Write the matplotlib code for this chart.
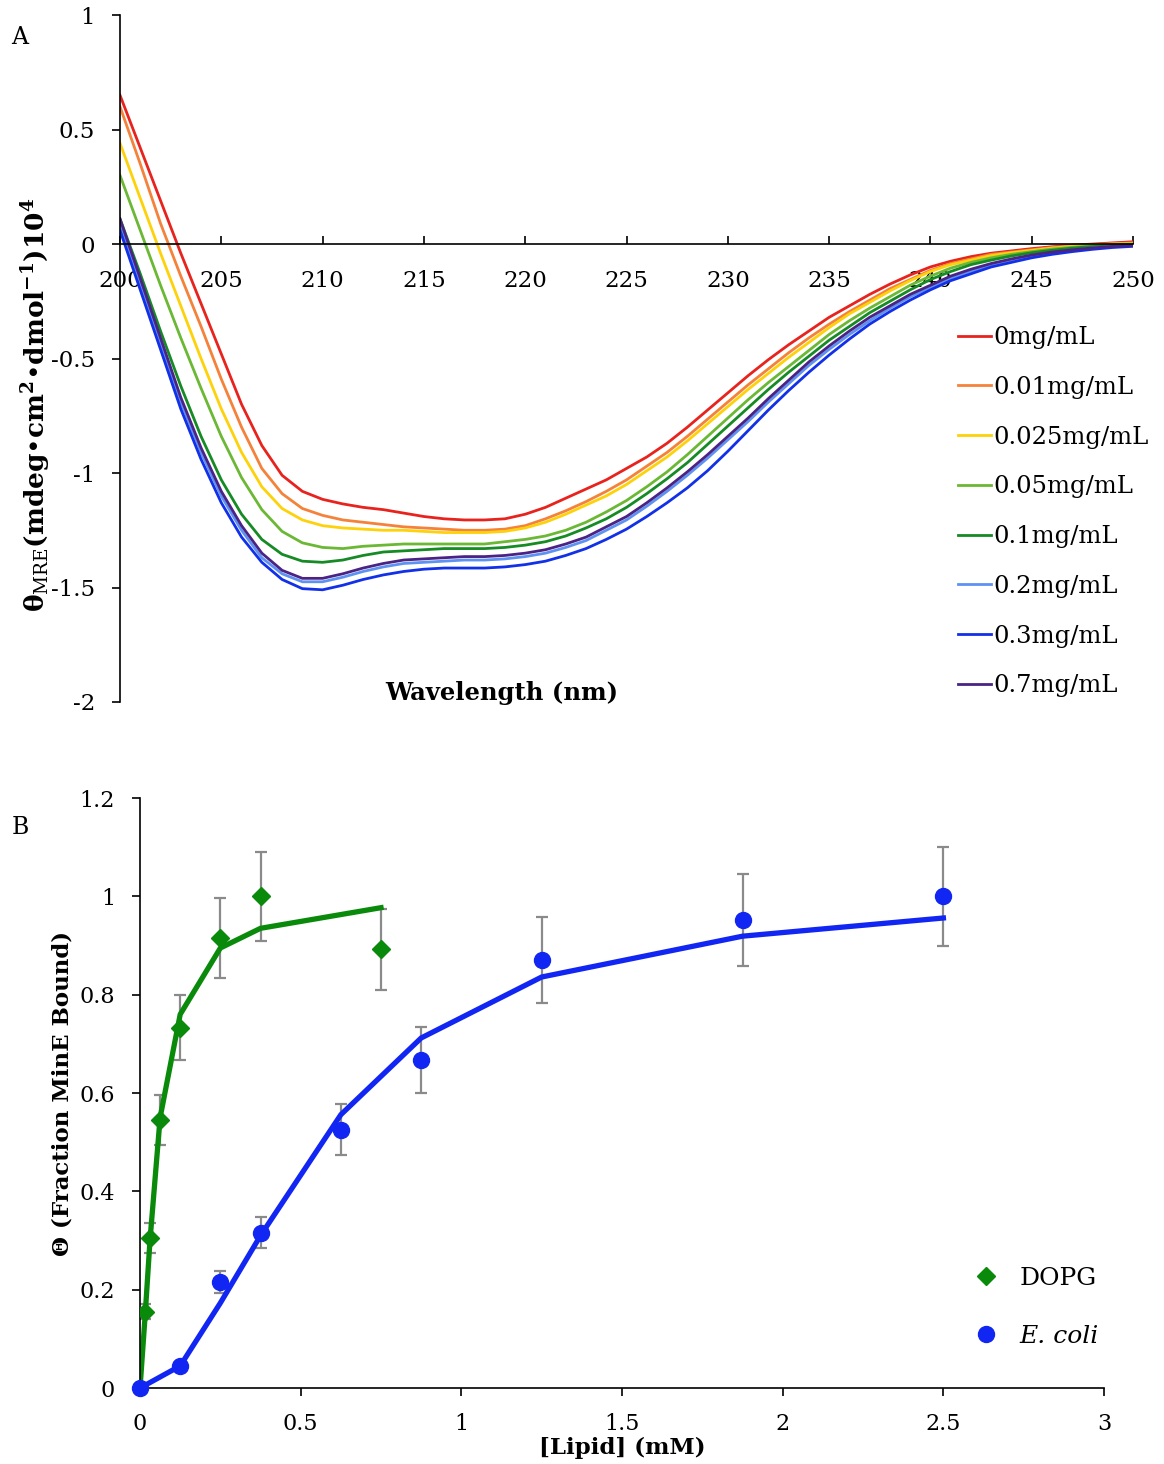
import matplotlib.pyplot as plt
from matplotlib.lines import Line2D

plt.rcParams['font.family'] = ['DejaVu Serif', 'DejaVu Sans']
plt.rcParams['mathtext.fontset'] = 'dejavuserif'

# ---- panel A: CD spectra ----
wavelength = list(range(200, 251))

cd_0 = [0.65, 0.42, 0.19, -0.04, -0.26, -0.48, -0.70, -0.88, -1.01, -1.08,
        -1.115, -1.135, -1.15, -1.16, -1.175, -1.19, -1.20, -1.205, -1.205, -1.20,
        -1.18, -1.15, -1.11, -1.07, -1.03, -0.98, -0.93, -0.87, -0.80, -0.725,
        -0.65, -0.575, -0.505, -0.44, -0.38, -0.32, -0.27, -0.22, -0.175, -0.135,
        -0.10, -0.075, -0.055, -0.04, -0.03, -0.02, -0.012, -0.005, 0.0, 0.005, 0.01]
cd_001 = [0.60, 0.35, 0.09, -0.14, -0.36, -0.59, -0.80, -0.98, -1.09, -1.155,
          -1.185, -1.205, -1.215, -1.225, -1.235, -1.24, -1.245, -1.25, -1.25, -1.245,
          -1.23, -1.20, -1.165, -1.125, -1.08, -1.03, -0.97, -0.91, -0.84, -0.765,
          -0.69, -0.615, -0.545, -0.475, -0.41, -0.35, -0.295, -0.245, -0.195, -0.155,
          -0.115, -0.085, -0.065, -0.045, -0.035, -0.025, -0.015, -0.008, -0.003, 0.002, 0.005]
cd_0025 = [0.44, 0.20, -0.04, -0.27, -0.50, -0.72, -0.91, -1.06, -1.155, -1.205,
           -1.23, -1.24, -1.245, -1.25, -1.25, -1.255, -1.26, -1.26, -1.26, -1.255,
           -1.24, -1.215, -1.18, -1.14, -1.10, -1.05, -0.99, -0.93, -0.86, -0.785,
           -0.71, -0.635, -0.565, -0.495, -0.43, -0.365, -0.305, -0.255, -0.205, -0.16,
           -0.12, -0.09, -0.07, -0.05, -0.038, -0.028, -0.018, -0.01, -0.005, 0.0, 0.003]
cd_005 = [0.30, 0.06, -0.18, -0.41, -0.63, -0.84, -1.02, -1.16, -1.255, -1.305,
          -1.325, -1.33, -1.32, -1.315, -1.31, -1.31, -1.31, -1.31, -1.31, -1.30,
          -1.29, -1.275, -1.25, -1.215, -1.17, -1.12, -1.06, -0.995, -0.92, -0.84,
          -0.76, -0.68, -0.605, -0.535, -0.465, -0.395, -0.335, -0.28, -0.23, -0.18,
          -0.14, -0.105, -0.08, -0.06, -0.045, -0.033, -0.022, -0.014, -0.008, -0.003, 0.0]
cd_01 = [0.11, -0.13, -0.38, -0.62, -0.84, -1.03, -1.18, -1.29, -1.355, -1.385,
         -1.39, -1.38, -1.36, -1.345, -1.34, -1.335, -1.33, -1.33, -1.33, -1.325,
         -1.315, -1.30, -1.275, -1.24, -1.20, -1.15, -1.09, -1.025, -0.955, -0.875,
         -0.795, -0.715, -0.635, -0.56, -0.49, -0.42, -0.36, -0.30, -0.25, -0.20,
         -0.155, -0.12, -0.09, -0.07, -0.052, -0.038, -0.027, -0.018, -0.011, -0.006, -0.002]
cd_02 = [0.09, -0.17, -0.43, -0.69, -0.91, -1.10, -1.25, -1.37, -1.44, -1.475,
         -1.475, -1.455, -1.43, -1.41, -1.395, -1.39, -1.385, -1.38, -1.38, -1.375,
         -1.365, -1.35, -1.325, -1.295, -1.25, -1.205, -1.145, -1.08, -1.01, -0.935,
         -0.855, -0.775, -0.69, -0.61, -0.53, -0.46, -0.395, -0.335, -0.28, -0.23,
         -0.19, -0.15, -0.12, -0.09, -0.07, -0.052, -0.038, -0.027, -0.018, -0.011, -0.007]
cd_03 = [0.06, -0.20, -0.46, -0.72, -0.94, -1.13, -1.28, -1.39, -1.465, -1.505,
         -1.51, -1.49, -1.465, -1.445, -1.43, -1.42, -1.415, -1.415, -1.415, -1.41,
         -1.40, -1.385, -1.36, -1.33, -1.29, -1.245, -1.19, -1.13, -1.065, -0.99,
         -0.905, -0.815, -0.725, -0.64, -0.56, -0.485, -0.415, -0.35, -0.295, -0.245,
         -0.20, -0.16, -0.13, -0.10, -0.08, -0.06, -0.045, -0.033, -0.023, -0.015, -0.01]
cd_07 = [0.11, -0.15, -0.41, -0.67, -0.89, -1.08, -1.23, -1.35, -1.425, -1.46,
         -1.46, -1.44, -1.415, -1.395, -1.38, -1.375, -1.37, -1.365, -1.365, -1.36,
         -1.35, -1.335, -1.31, -1.28, -1.235, -1.19, -1.13, -1.065, -0.995, -0.92,
         -0.84, -0.76, -0.675, -0.595, -0.515, -0.445, -0.38, -0.32, -0.27, -0.22,
         -0.18, -0.14, -0.11, -0.085, -0.065, -0.048, -0.035, -0.025, -0.017, -0.01, -0.006]

conc_labels = ['0mg/mL', '0.01mg/mL', '0.025mg/mL', '0.05mg/mL',
               '0.1mg/mL', '0.2mg/mL', '0.3mg/mL', '0.7mg/mL']
spectra = [cd_0, cd_001, cd_0025, cd_005, cd_01, cd_02, cd_03, cd_07]
colors_a = ['#e8231d', '#f5823a', '#fdd20a', '#6bb834', '#168a24',
            '#5e92f2', '#1230e8', '#4a2385']

# ---- panel B: binding ----
dopg_x = [0.0156, 0.031, 0.0625, 0.125, 0.25, 0.375, 0.75]
dopg_y = [0.155, 0.305, 0.545, 0.733, 0.915, 1.0, 0.892]
dopg_err = [0.015, 0.03, 0.05, 0.066, 0.082, 0.09, 0.082]
dopg_fit_x = [0, 0.0156, 0.031, 0.0625, 0.125, 0.25, 0.375, 0.75]
dopg_fit_y = [0, 0.145, 0.30, 0.55, 0.76, 0.895, 0.935, 0.977]

ecoli_x = [0, 0.125, 0.25, 0.375, 0.625, 0.875, 1.25, 1.875, 2.5]
ecoli_y = [0, 0.045, 0.215, 0.316, 0.525, 0.667, 0.871, 0.952, 1.0]
ecoli_err = [0, 0, 0.022, 0.031, 0.052, 0.067, 0.088, 0.094, 0.10]
ecoli_fit_y = [0, 0.045, 0.173, 0.31, 0.556, 0.712, 0.836, 0.919, 0.956]

fig = plt.figure(figsize=(11.64, 14.64), dpi=100)

# ---------------- A ----------------
axA = fig.add_axes([0.1031, 0.5205, 0.8703, 0.4692])
for vals, lab, col in zip(spectra, conc_labels, colors_a):
    axA.plot(wavelength, vals, color=col, lw=2.0, label=lab, solid_joinstyle='round')
axA.set_xlim(200, 250)
axA.set_ylim(-2, 1)
for s in ['top', 'right']:
    axA.spines[s].set_visible(False)
axA.spines['bottom'].set_position(('data', 0))
axA.spines['bottom'].set_linewidth(1.2)
axA.spines['left'].set_linewidth(1.2)
axA.set_xticks(range(200, 251, 5))
axA.set_xticklabels([str(v) for v in range(200, 251, 5)])
yt = [1, 0.5, 0, -0.5, -1, -1.5, -2]
axA.set_yticks(yt)
axA.set_yticklabels(['1', '0.5', '0', '-0.5', '-1', '-1.5', '-2'])
axA.tick_params(axis='x', direction='in', length=6, width=1.2, pad=19, labelsize=16.5)
axA.tick_params(axis='y', direction='out', length=6, width=1.2, pad=12, labelsize=16.5)
axA.text(0.377, 0.013, 'Wavelength (nm)', transform=axA.transAxes, ha='center',
         va='center', fontsize=17.5, fontweight='bold')
legA = axA.legend(loc='upper left', bbox_to_anchor=(0.827, 0.547), frameon=False,
                  borderpad=0, borderaxespad=0, handlelength=1.35, handletextpad=0.12,
                  labelspacing=1.1, fontsize=17.5)
fig.text(36 / 1164, 1 - 405 / 1464,
         r'$\mathbf{\theta}_{\mathrm{MRE}}$(mdeg•cm$^{\mathbf{2}}$•dmol$^{\mathbf{-1}}$)10$^{\mathbf{4}}$',
         rotation=90, ha='center', va='center', fontsize=19, fontweight='bold')
fig.text(20 / 1164, 1 - 37 / 1464, 'A', ha='center', va='center', fontsize=17)

# ---------------- B ----------------
axB = fig.add_axes([0.1203, 0.0519, 0.8282, 0.4030])
grey = '#8a8a8a'
axB.errorbar(dopg_x, dopg_y, yerr=dopg_err, fmt='none', ecolor=grey,
             elinewidth=1.6, capsize=4, capthick=1.6, zorder=1)
axB.errorbar(ecoli_x, ecoli_y, yerr=ecoli_err, fmt='none', ecolor=grey,
             elinewidth=1.6, capsize=4, capthick=1.6, zorder=1)
green = '#0a8a0a'
blue = '#1126f2'
axB.plot(dopg_fit_x, dopg_fit_y, color=green, lw=3.8, zorder=2)
axB.plot(ecoli_x, ecoli_fit_y, color=blue, lw=3.8, zorder=2)
axB.plot(dopg_x, dopg_y, 'D', color=green, ms=9, zorder=3)
axB.plot(ecoli_x, ecoli_y, 'o', color=blue, ms=11.5, zorder=3, clip_on=False)
axB.set_xlim(0, 3)
axB.set_ylim(0, 1.2)
for s in ['top', 'right']:
    axB.spines[s].set_visible(False)
axB.spines['bottom'].set_linewidth(1.2)
axB.spines['left'].set_linewidth(1.2)
axB.set_xticks([0, 0.5, 1, 1.5, 2, 2.5, 3])
axB.set_xticklabels(['0', '0.5', '1', '1.5', '2', '2.5', '3'])
axB.set_yticks([0, 0.2, 0.4, 0.6, 0.8, 1.0, 1.2])
axB.set_yticklabels(['0', '0.2', '0.4', '0.6', '0.8', '1', '1.2'])
axB.tick_params(axis='x', direction='out', length=6, width=1.2, pad=12, labelsize=16)
axB.tick_params(axis='y', direction='out', length=6, width=1.2, pad=12, labelsize=16)
axB.set_xlabel('[Lipid] (mM)', fontsize=16.5, fontweight='bold', labelpad=1)
axB.set_ylabel('Θ (Fraction MinE Bound)', fontsize=16.5, fontweight='bold', labelpad=4)
handles = [Line2D([], [], marker='D', color=green, ls='none', ms=9),
           Line2D([], [], marker='o', color=blue, ls='none', ms=11.5)]
legB = axB.legend(handles, ['DOPG', 'E. coli'], loc='upper left',
                  bbox_to_anchor=(0.867, 0.205), frameon=False, borderpad=0,
                  borderaxespad=0, handlelength=0.8, handletextpad=0.96,
                  labelspacing=1.4, fontsize=18)
legB.get_texts()[1].set_fontstyle('italic')
fig.text(20 / 1164, 1 - 828 / 1464, 'B', ha='center', va='center', fontsize=17)

fig.savefig('out.png', dpi=100)
